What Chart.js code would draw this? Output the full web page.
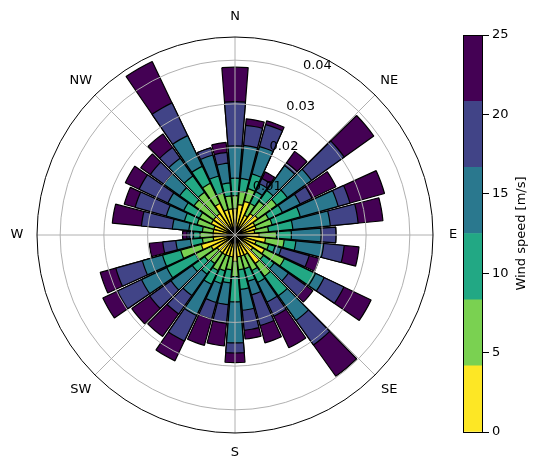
<!DOCTYPE html>
<html>
<head>
<meta charset="utf-8">
<script src="https://cdn.jsdelivr.net/npm/chart.js@4.4.1/dist/chart.umd.min.js"></script>
<style>
  html, body { margin: 0; padding: 0; background: #fff; overflow: hidden; }
  #roseWrap { position: absolute; left: 0; top: 0; width: 470px; height: 469px; }
  #barWrap { position: absolute; left: 463px; top: 0; width: 77px; height: 469px; }
</style>
</head>
<body>
<div id="roseWrap"><canvas id="rose"></canvas></div>
<div id="barWrap"><canvas id="cbar"></canvas></div>
<script>
// wind direction sectors (degrees from north, clockwise)
const directions = [0, 10, 20, 30, 40, 50, 60, 70, 80, 90, 100, 110, 120, 130, 140, 150, 160, 170,
  180, 190, 200, 210, 220, 230, 240, 250, 260, 270, 280, 290, 300, 310, 320, 330, 340, 350];

// cumulative frequency at the top of each speed band, per direction
const topBand1 = [0.006, 0.007, 0.008, 0.005, 0.006, 0.0064, 0.005, 0.005, 0.0045, 0.0055, 0.007, 0.005,
  0.0075, 0.005, 0.008, 0.005, 0.005, 0.005, 0.006, 0.005, 0.005, 0.005, 0.005, 0.005,
  0.006, 0.008, 0.005, 0.005, 0.005, 0.005, 0.006, 0.006, 0.006, 0.008, 0.006, 0.006];
const topBand2 = [0.009, 0.010, 0.011, 0.008, 0.0095, 0.0117, 0.0085, 0.0088, 0.0077, 0.0095, 0.0113, 0.008,
  0.0125, 0.008, 0.0116, 0.009, 0.008, 0.008, 0.0095, 0.008, 0.0085, 0.009, 0.008, 0.0085,
  0.010, 0.0129, 0.0075, 0.008, 0.0075, 0.009, 0.009, 0.0115, 0.012, 0.0131, 0.010, 0.009];
const topBand3 = [0.013, 0.013, 0.0145, 0.011, 0.0125, 0.0147, 0.012, 0.0155, 0.0133, 0.0129, 0.014, 0.0095,
  0.0204, 0.011, 0.0171, 0.012, 0.011, 0.0125, 0.0153, 0.011, 0.0115, 0.0125, 0.011, 0.012,
  0.0173, 0.0172, 0.0102, 0.0095, 0.0106, 0.012, 0.013, 0.0155, 0.0166, 0.0174, 0.014, 0.012];
const topBand4 = [0.0204, 0.0206, 0.021, 0.013, 0.0195, 0.0215, 0.0165, 0.0245, 0.0219, 0.0197, 0.0204, 0.011,
  0.0226, 0.015, 0.024, 0.017, 0.0142, 0.0173, 0.0247, 0.016, 0.016, 0.0204, 0.017, 0.018,
  0.0237, 0.022, 0.0136, 0.0105, 0.0144, 0.0163, 0.017, 0.020, 0.0216, 0.0252, 0.019, 0.0165];
const topBand5 = [0.0305, 0.0252, 0.0262, 0.0143, 0.0203, 0.0307, 0.0195, 0.0273, 0.0283, 0.0231, 0.0251, 0.0176,
  0.0276, 0.020, 0.0309, 0.0206, 0.0215, 0.0219, 0.027, 0.0203, 0.020, 0.0269, 0.0222, 0.024,
  0.0298, 0.0283, 0.0166, 0.011, 0.0215, 0.0237, 0.0243, 0.0238, 0.0246, 0.0335, 0.0207, 0.019];
const topBand6 = [0.0384, 0.0267, 0.0271, 0.016, 0.0235, 0.039, 0.0256, 0.0355, 0.034, 0.0231, 0.0285, 0.020,
  0.0345, 0.0219, 0.0397, 0.0286, 0.0256, 0.0239, 0.0292, 0.0255, 0.0262, 0.0319, 0.0285, 0.029,
  0.0335, 0.032, 0.0197, 0.012, 0.0282, 0.0263, 0.0278, 0.0265, 0.0284, 0.044, 0.0207, 0.0213];

const radialTicks = [0.01, 0.02, 0.03, 0.04];
const radialTickLabels = ['0.01', '0.02', '0.03', '0.04'];
const compassLabels = ['N', 'NE', 'E', 'SE', 'S', 'SW', 'W', 'NW'];

// colorbar
const speedEdges = [0, 4.17, 8.33, 12.5, 16.67, 20.83, 25];
const speedTicks = [0, 5, 10, 15, 20, 25];
const bandColors = ['#fde725', '#7ad151', '#22a884', '#2a788e', '#414487', '#440154'];

const FONT = '"DejaVu Sans", sans-serif';
const BAR_DEG = 9;
const GAP_DEG = 1;

// each sector is a bar followed by a thin empty slot
function withGaps(values) {
  const out = [];
  values.forEach((v) => { out.push(v); out.push(0); });
  return out;
}

const bands = [topBand1, topBand2, topBand3, topBand4, topBand5, topBand6];
const roseLabels = [];
directions.forEach((d) => { roseLabels.push(d + '°'); roseLabels.push(''); });

const isBar = (c) => c.dataIndex % 2 === 0;

const roseDecor = {
  id: 'roseDecor',
  afterDatasetsDraw(chart) {
    const s = chart.scales.r;
    const ctx = chart.ctx;
    const cx = s.xCenter;
    const cy = s.yCenter;
    const R = s.drawingArea;
    ctx.save();
    ctx.strokeStyle = '#b0b0b0';
    ctx.lineWidth = 1;
    radialTicks.forEach((v) => {
      ctx.beginPath();
      ctx.arc(cx, cy, s.getDistanceFromCenterForValue(v), 0, Math.PI * 2);
      ctx.stroke();
    });
    compassLabels.forEach((_, i) => {
      const a = (i * 45 - 90) * Math.PI / 180;
      ctx.beginPath();
      ctx.moveTo(cx, cy);
      ctx.lineTo(cx + R * Math.cos(a), cy + R * Math.sin(a));
      ctx.stroke();
    });
    ctx.strokeStyle = '#000';
    ctx.beginPath();
    ctx.arc(cx, cy, R, 0, Math.PI * 2);
    ctx.stroke();

    ctx.fillStyle = '#000';
    ctx.font = '13px ' + FONT;
    ctx.textAlign = 'center';
    ctx.textBaseline = 'middle';
    compassLabels.forEach((lab, i) => {
      const a = (i * 45 - 90) * Math.PI / 180;
      ctx.fillText(lab, cx + (R + 20) * Math.cos(a), cy + (R + 20) * Math.sin(a));
    });
    ctx.textAlign = 'left';
    ctx.textBaseline = 'bottom';
    const la = (22.5 - 90) * Math.PI / 180;
    radialTicks.forEach((v, i) => {
      const r = s.getDistanceFromCenterForValue(v);
      ctx.fillText(radialTickLabels[i], cx + r * Math.cos(la) + 1, cy + r * Math.sin(la) - 1);
    });
    ctx.restore();
  }
};

new Chart(document.getElementById('rose'), {
  type: 'polarArea',
  data: {
    labels: roseLabels,
    datasets: bands.map((vals, k) => ({
      label: speedEdges[k] + '-' + speedEdges[k + 1],
      data: withGaps(vals),
      backgroundColor: (c) => (isBar(c) ? bandColors[k] : 'rgba(0,0,0,0)'),
      borderColor: '#000',
      borderWidth: (c) => (isBar(c) ? 1.2 : 0),
      angle: (c) => (isBar(c) ? BAR_DEG : GAP_DEG)
    }))
  },
  options: {
    responsive: true,
    maintainAspectRatio: false,
    animation: false,
    events: [],
    layout: { padding: { left: 37, right: 37, top: 37, bottom: 36 } },
    plugins: { legend: { display: false }, tooltip: { enabled: false } },
    scales: {
      r: {
        min: 0,
        max: 0.0453,
        startAngle: -BAR_DEG / 2,
        ticks: { display: false },
        grid: { display: false },
        angleLines: { display: false },
        pointLabels: { display: false }
      }
    }
  },
  plugins: [roseDecor]
});

const cbarDecor = {
  id: 'cbarDecor',
  afterDraw(chart) {
    const a = chart.chartArea;
    const ctx = chart.ctx;
    ctx.save();
    ctx.strokeStyle = '#000';
    ctx.lineWidth = 1;
    ctx.strokeRect(a.left + 0.5, a.top + 0.5, a.right - a.left - 1, a.bottom - a.top);
    ctx.fillStyle = '#000';
    ctx.font = '13px ' + FONT;
    ctx.textAlign = 'center';
    ctx.textBaseline = 'middle';
    ctx.translate(59, (a.top + a.bottom) / 2);
    ctx.rotate(-Math.PI / 2);
    ctx.fillText('Wind speed [m/s]', 0, 0);
    ctx.restore();
  }
};

new Chart(document.getElementById('cbar'), {
  type: 'bar',
  data: {
    labels: ['speed'],
    datasets: bandColors.map((col, k) => ({
      data: [[speedEdges[k], speedEdges[k + 1]]],
      backgroundColor: col,
      borderWidth: 0,
      barPercentage: 1,
      categoryPercentage: 1
    }))
  },
  options: {
    responsive: true,
    maintainAspectRatio: false,
    animation: false,
    events: [],
    layout: { padding: { left: 0, right: 0, top: 35, bottom: 37 } },
    plugins: { legend: { display: false }, tooltip: { enabled: false } },
    scales: {
      x: { display: false, stacked: true },
      y: {
        position: 'right',
        min: 0,
        max: 25,
        afterBuildTicks: (scale) => { scale.ticks = speedTicks.map((v) => ({ value: v })); },
        afterFit: (scale) => { scale.width = 57; },
        border: { display: false },
        grid: { drawOnChartArea: false, drawTicks: true, tickLength: 6, color: '#000', lineWidth: 1 },
        ticks: { color: '#000', padding: 3, font: { family: FONT, size: 13 } }
      }
    }
  },
  plugins: [cbarDecor]
});
</script>
</body>
</html>
